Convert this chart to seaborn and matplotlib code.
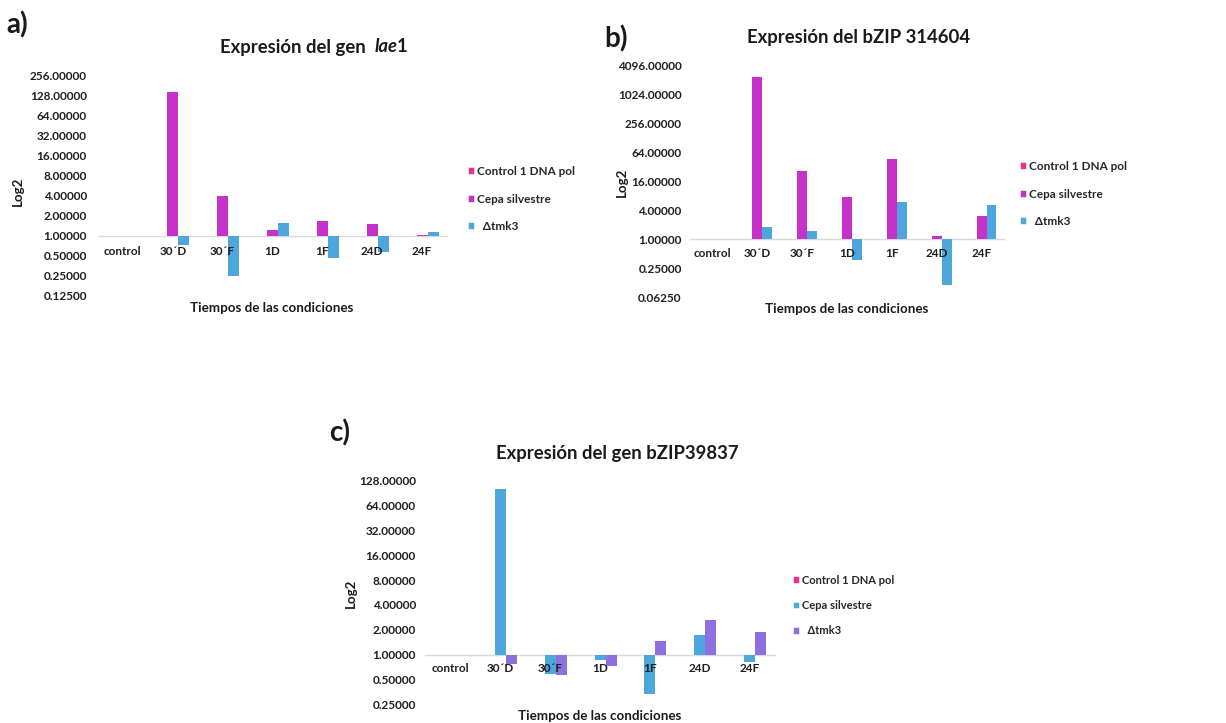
import numpy as np
import pandas as pd
import matplotlib
matplotlib.use("Agg")
import matplotlib.pyplot as plt
from matplotlib.patches import Patch
import seaborn as sns

# ---- data -----------------------------------------------------------------
conditions = ["control", "30´D", "30´F", "1D", "1F", "24D", "24F"]
series = ["Control 1 DNA pol", "Cepa silvestre", "Δtmk3"]

# relative expression (fold change), gene lae1
lae1_control = [1, 1, 1, 1, 1, 1, 1]
lae1_silvestre = [1, 145, 3.9, 1.23, 1.68, 1.48, 1.03]
lae1_tmk3 = [1, 0.73, 0.25, 1.53, 0.46, 0.56, 1.12]

# bZIP 314604
b314_control = [1, 1, 1, 1, 1, 1, 1]
b314_silvestre = [1, 2350, 26.9, 7.5, 47.7, 1.17, 3.06]
b314_tmk3 = [1, 1.83, 1.51, 0.37, 5.9, 0.112, 5.1]

# bZIP39837
b398_control = [1, 1, 1, 1, 1, 1, 1]
b398_silvestre = [1, 102, 0.58, 0.85, 0.33, 1.73, 0.82]
b398_tmk3 = [1, 0.76, 0.56, 0.73, 1.47, 2.62, 1.9]

PINK = "#E5338C"
MAGENTA = "#C531C9"
BLUE = "#4DA6DC"
PURPLE = "#8E6FE0"

W, H = 1226, 723
FONTS = ["Lato", "DejaVu Sans"]

sns.set_theme(style="white")
plt.rcParams["font.family"] = FONTS
plt.rcParams["font.weight"] = "bold"

fig = plt.figure(figsize=(W / 100, H / 100), dpi=100)
fig.patch.set_facecolor("white")


def px_axes(x0, x1, ytop, ybot):
    return fig.add_axes([x0 / W, 1 - ybot / H, (x1 - x0) / W, (ybot - ytop) / H])


def long_frame(a, b, c):
    rows = []
    for name, vals in zip(series, (a, b, c)):
        for cond, v in zip(conditions, vals):
            rows.append({"cond": cond, "serie": name, "log2": np.log2(v)})
    return pd.DataFrame(rows)


def draw_panel(ax, df, palette, ticks, xpad, ypad):
    sns.barplot(data=df, x="cond", y="log2", hue="serie", hue_order=series,
                order=conditions, palette=palette, width=0.66, errorbar=None,
                saturation=1, linewidth=0, legend=False, ax=ax)
    ax.set_xlim(-0.5, 6.5)
    ax.set_ylim(ticks[0], ticks[-1])
    ax.set_yticks(ticks)
    ax.set_yticklabels([f"{2.0 ** k:.5f}" for k in ticks])
    for s in ("top", "right", "left"):
        ax.spines[s].set_visible(False)
    ax.spines["bottom"].set_position(("data", 0))
    ax.spines["bottom"].set_color("#d9d9d9")
    ax.spines["bottom"].set_linewidth(1.0)
    ax.spines["bottom"].set_zorder(0.5)
    ax.xaxis.set_zorder(3)
    ax.tick_params(axis="x", length=0, pad=xpad, labelsize=8.5, colors="#1f1f1f")
    ax.tick_params(axis="y", length=0, pad=ypad, labelsize=8.5, colors="#1f1f1f")
    for lab in ax.get_xticklabels() + ax.get_yticklabels():
        lab.set_fontweight("bold")
    ax.set_xlabel("")
    ax.set_ylabel("")
    ax.grid(False)
    ax.set_facecolor("none")


def legend_at(palette, x, y, spacing, size=8.5):
    handles = [Patch(facecolor=c, edgecolor="white", linewidth=0.4) for c in palette]
    labels = [series[0], series[1], "  " + series[2]]
    fig.legend(handles, labels, loc="upper left",
               bbox_to_anchor=(x / W, 1 - y / H), frameon=False,
               handlelength=0.55, handleheight=0.55, handletextpad=0.25,
               labelspacing=spacing, borderpad=0, borderaxespad=0,
               prop={"family": FONTS, "weight": "bold", "size": size})


def rich_text(parts, cx, cy, size):
    """Centered single-line text built from (string, style, kern) pieces."""
    renderer = fig.canvas.get_renderer()
    objs, widths = [], []
    for s, style, kern in parts:
        t = fig.text(0, cy, s, fontsize=size, fontweight="bold", fontstyle=style,
                     family=FONTS, va="center", ha="left", color="#1a1a1a",
                     transform=None)
        objs.append(t)
        widths.append(t.get_window_extent(renderer).width + kern)
    x = cx - sum(widths) / 2
    for t, w in zip(objs, widths):
        t.set_position((x, H - cy))
        x += w


def fig_text(x, y, s, size, **kw):
    fig.text(x / W, 1 - y / H, s, fontsize=size, fontweight="bold",
             family=FONTS, color="#1a1a1a", **kw)


# ---- panel a ----------------------------------------------------------------
ax_a = px_axes(98, 447, 75.3, 295.7)
draw_panel(ax_a, long_frame(lae1_control, lae1_silvestre, lae1_tmk3),
           [PINK, MAGENTA, BLUE], list(range(-3, 9)), 7.5, 8.0)
rich_text([("Expresión del gen  ", "normal", 0), ("lae", "italic", -1),
           ("1", "normal", 0)], 314, 47, 13.3)
fig_text(18, 191, "Log2", 9.5, rotation=90, ha="center", va="center")
fig_text(272, 308, "Tiempos de las condiciones", 9.6, ha="center", va="center")
fig_text(6, 24.5, "a)", 20, ha="left", va="center")
legend_at([PINK, MAGENTA, BLUE], 468, 166, 1.4)

# ---- panel b ----------------------------------------------------------------
ax_b = px_axes(690, 1004, 65.7, 297)
draw_panel(ax_b, long_frame(b314_control, b314_silvestre, b314_tmk3),
           [PINK, MAGENTA, BLUE], list(range(-4, 13, 2)), 6.5, 6.0)
rich_text([("Expresión del bZIP 314604", "normal", 0)], 859, 38, 13.3)
fig_text(622, 182, "Log2", 9.5, rotation=90, ha="center", va="center")
fig_text(847, 309, "Tiempos de las condiciones", 9.6, ha="center", va="center")
fig_text(604, 39, "b)", 20, ha="left", va="center")
legend_at([PINK, MAGENTA, BLUE], 1020, 161, 1.4)

# ---- panel c ----------------------------------------------------------------
ax_c = px_axes(425, 775, 480.7, 704.3)
draw_panel(ax_c, long_frame(b398_control, b398_silvestre, b398_tmk3),
           [PINK, BLUE, PURPLE], list(range(-2, 8)), 6.0, 6.5)
rich_text([("Expresión del gen bZIP39837", "normal", 0)], 617, 453, 13.3)
fig_text(351, 593, "Log2", 9.5, rotation=90, ha="center", va="center")
fig_text(600, 716, "Tiempos de las condiciones", 9.6, ha="center", va="center")
fig_text(329, 433, "c)", 20, ha="left", va="center")
legend_at([PINK, BLUE, PURPLE], 793, 574.5, 1.3, size=8.0)

fig.savefig("out.png", dpi=100, facecolor="white")
